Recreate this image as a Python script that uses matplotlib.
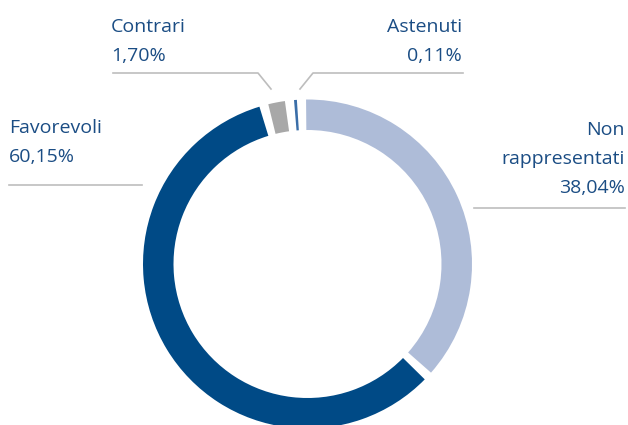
import matplotlib
matplotlib.use("Agg")
import matplotlib.pyplot as plt
from matplotlib.patches import Wedge

plt.rcParams['font.family'] = ['Open Sans', 'DejaVu Sans']

labels = ["Non\nrappresentati", "Favorevoli", "Contrari", "Astenuti"]
values = [38.04, 60.15, 1.70, 0.11]
value_labels = ["38,04%", "60,15%", "1,70%", "0,11%"]
colors = ["#aebcd8", "#004a86", "#a8a8a8", "#3a6ea8"]

W, H = 628, 425
fig = plt.figure(figsize=(W / 100, H / 100), dpi=100)
ax = fig.add_axes([0, 0, 1, 1])
ax.set_xlim(0, W)
ax.set_ylim(H, 0)
ax.axis('off')

# donut geometry (pixel coords, y down)
cx, cy = 307.5, 264
r_out, ring = 164.5, 30.5
gap = 3.2
min_span = 1.0

total = sum(values)
avail = 360 - gap * len(values)
raw = [v / total * avail for v in values]
small = [r < min_span for r in raw]
fixed = sum(min_span for s in small if s)
big_sum = sum(r for r, s in zip(raw, small) if not s)
spans = [min_span if s else r * (avail - fixed) / big_sum for r, s in zip(raw, small)]

# with y axis inverted, angles increase clockwise on screen; top = -90
start = -90.5
for s, c in zip(spans, colors):
    ax.add_patch(Wedge((cx, cy), r_out, start, start + s, width=ring,
                       facecolor=c, edgecolor='none'))
    start += s + gap

txt = "#1b4d84"
line_c = "#bdbdbd"
fs = 14

# Favorevoli
ax.text(9, 133, "Favorevoli", color=txt, fontsize=fs, ha='left', va='baseline')
ax.text(9, 162, value_labels[1], color=txt, fontsize=fs, ha='left', va='baseline')
ax.plot([9, 142], [185, 185], color=line_c, lw=1.2)

# Non rappresentati
ax.text(625, 135, "Non", color=txt, fontsize=fs, ha='right', va='baseline')
ax.text(625, 164, "rappresentati", color=txt, fontsize=fs, ha='right', va='baseline')
ax.text(625, 193, value_labels[0], color=txt, fontsize=fs, ha='right', va='baseline')
ax.plot([474, 625], [208, 208], color=line_c, lw=1.2)

# Contrari
ax.text(111, 32, "Contrari", color=txt, fontsize=fs, ha='left', va='baseline')
ax.text(111, 61, value_labels[2], color=txt, fontsize=fs, ha='left', va='baseline')
ax.plot([113, 258, 271], [73, 73, 89], color=line_c, lw=1.2)

# Astenuti
ax.text(462, 32, "Astenuti", color=txt, fontsize=fs, ha='right', va='baseline')
ax.text(462, 61, value_labels[3], color=txt, fontsize=fs, ha='right', va='baseline')
ax.plot([463, 313, 300], [73, 73, 89], color=line_c, lw=1.2)

fig.savefig("out.png", dpi=100)
